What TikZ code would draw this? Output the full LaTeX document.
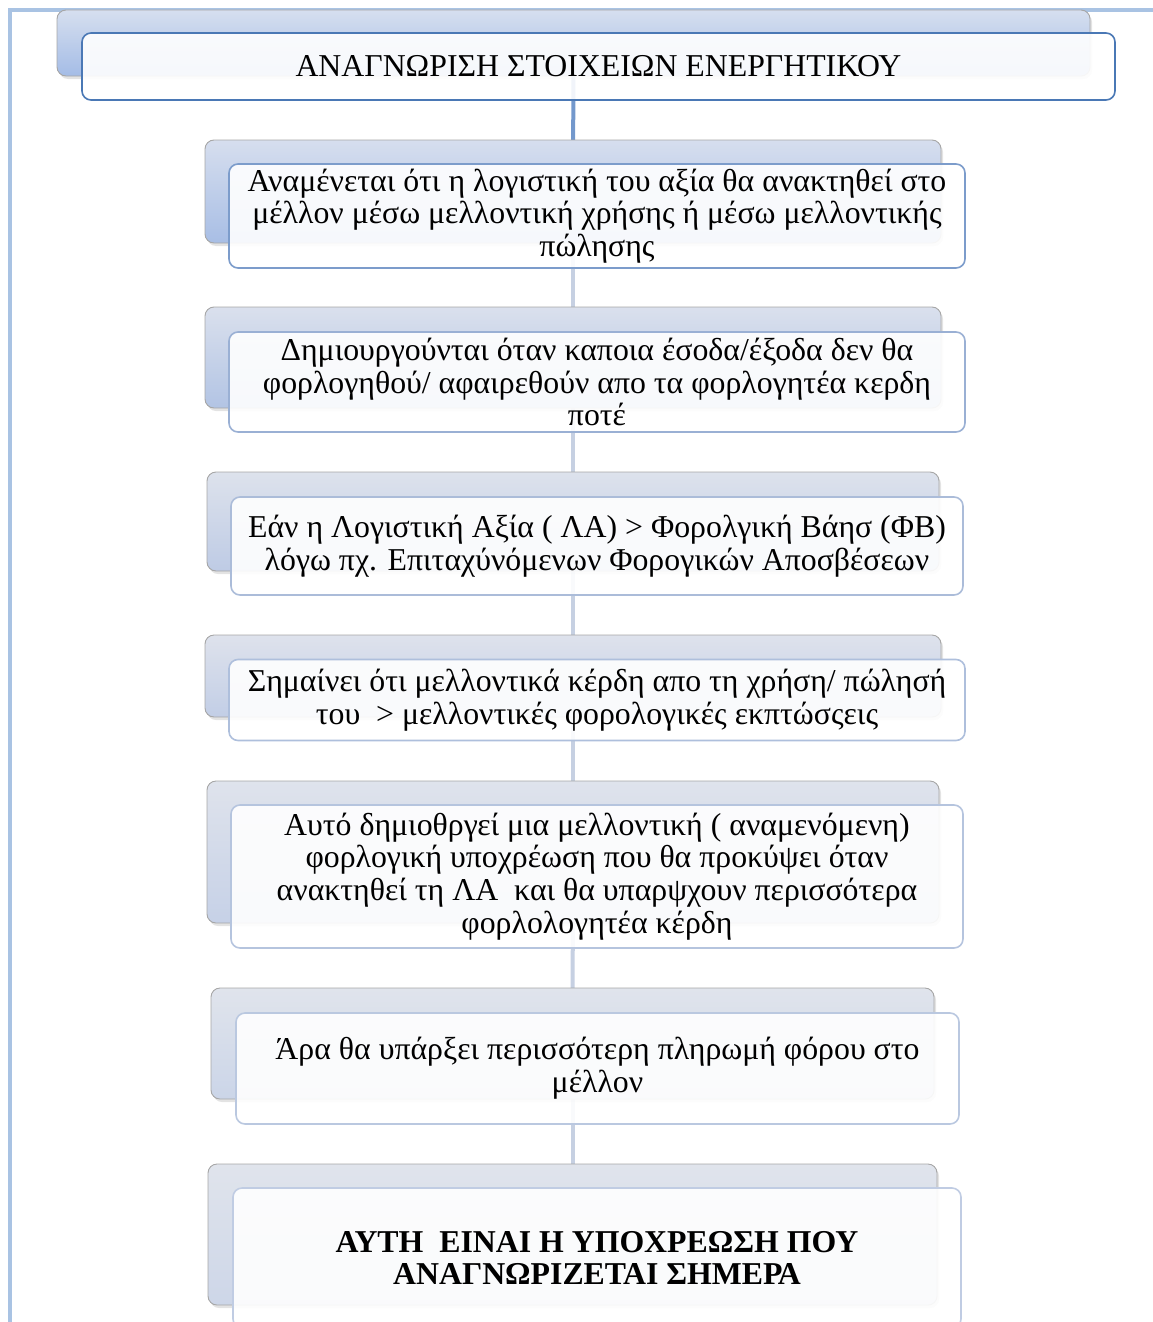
\documentclass[tikz,border=0pt]{standalone}
\usepackage{fontspec}
\setmainfont{Liberation Serif}
\usetikzlibrary{shadows}
\pgfdeclarelayer{background}
\pgfsetlayers{background,main}

\definecolor{framecol}{HTML}{A9C3E3}
\definecolor{spinetop}{HTML}{7398CC}
\definecolor{spine}{HTML}{C6D0E2}

\tikzset{
  back/.style={draw=black!35, line width=0.9pt, rounded corners=9pt, inner sep=0pt,
    drop shadow={opacity=0.22, shadow xshift=2pt, shadow yshift=-3pt}},
  front/.style={line width=1.6pt, rounded corners=9pt, fill=white, fill opacity=0.9,
    text opacity=1, inner sep=0pt, align=center,
    font=\fontsize{31.8}{32.8}\selectfont},
  link/.style={line width=4pt, draw=spine},
}

\begin{document}
\begin{tikzpicture}[x=1pt, y=-1pt]
\useasboundingbox (0,0) rectangle (1153,1322);

% outer frame (left and top edges)
\draw[framecol, line width=4pt] (9.5,1330) -- (9.5,10.5) -- (1160,10.5);

% back plates, top colour fading towards grey down the column
\node[back, top color={rgb,255:red,214;green,223;blue,239}, bottom color={rgb,255:red,164;green,188;blue,230},
  minimum width=1033pt, minimum height=66pt] (p0) at (573.5,43) {};
\node[back, top color={rgb,255:red,214;green,222;blue,238}, bottom color={rgb,255:red,168;green,190;blue,229},
  minimum width=736pt, minimum height=103pt] (p1) at (573,191.5) {};
\node[back, top color={rgb,255:red,218;green,224;blue,237}, bottom color={rgb,255:red,178;green,196;blue,228},
  minimum width=736pt, minimum height=101pt] (p2) at (573,357.5) {};
\node[back, top color={rgb,255:red,221;green,226;blue,236}, bottom color={rgb,255:red,190;green,203;blue,229},
  minimum width=732pt, minimum height=99pt] (p3) at (573,521.5) {};
\node[back, top color={rgb,255:red,222;green,226;blue,236}, bottom color={rgb,255:red,194;green,206;blue,230},
  minimum width=736pt, minimum height=82pt] (p4) at (573,676) {};
\node[back, top color={rgb,255:red,223;green,227;blue,236}, bottom color={rgb,255:red,198;green,209;blue,231},
  minimum width=732pt, minimum height=142pt] (p5) at (573,852) {};
\node[back, top color={rgb,255:red,224;green,228;blue,236}, bottom color={rgb,255:red,203;green,213;blue,232},
  minimum width=723pt, minimum height=111pt] (p6) at (572.5,1043.5) {};
\node[back, top color={rgb,255:red,224;green,228;blue,236}, bottom color={rgb,255:red,205;green,214;blue,232},
  minimum width=729pt, minimum height=141pt] (p7) at (572.5,1234.5) {};

% spine joining the plates
\begin{pgfonlayer}{background}
  \draw[link, draw=spinetop] (p0.center) -- (p1.center);
  \draw[link] (p1.center) -- (p2.center);
  \draw[link] (p2.center) -- (p3.center);
  \draw[link] (p3.center) -- (p4.center);
  \draw[link] (p4.center) -- (p5.center);
  \draw[link] (p5.center) -- (p6.center);
  \draw[link] (p6.center) -- (p7.center);
\end{pgfonlayer}

% text cards
\node[front, draw={rgb,255:red,74;green,120;blue,181}, minimum width=1033pt, minimum height=67pt] (c0) at (598.5,66.5)
  {ΑΝΑΓΝΩΡΙΣΗ ΣΤΟΙΧΕΙΩΝ ΕΝΕΡΓΗΤΙΚΟΥ};
\node[front, draw={rgb,255:red,124;green,156;blue,203}, minimum width=736pt, minimum height=104pt] (c1) at (597,216)
  {Αναμένεται ότι η λογιστική του αξία θα ανακτηθεί στο\\
   μέλλον μέσω μελλοντική χρήσης ή μέσω μελλοντικής\\
   πώλησης};
\node[front, draw={rgb,255:red,154;green,176;blue,212}, minimum width=736pt, minimum height=100pt] (c2) at (597,382)
  {Δημιουργούνται όταν καποια έσοδα/έξοδα δεν θα\\
   φορλογηθού/ αφαιρεθούν απο τα φορλογητέα κερδη\\
   ποτέ};
\node[front, draw={rgb,255:red,171;green,188;blue,217}, minimum width=732pt, minimum height=98pt] (c3) at (597,546)
  {Εάν η Λογιστική Αξία ( ΛΑ) > Φορολγική Βάησ (ΦΒ)\\
   λόγω πχ. Επιταχύνόμενων Φορογικών Αποσβέσεων};
\node[front, draw={rgb,255:red,174;green,191;blue,220}, minimum width=736pt, minimum height=81pt] (c4) at (597,700)
  {Σημαίνει ότι μελλοντικά κέρδη απο τη χρήση/ πώλησή\\
   του\ \ > μελλοντικές φορολογικές εκπτώσςεις};
\node[front, draw={rgb,255:red,181;green,196;blue,222}, minimum width=732pt, minimum height=143pt] (c5) at (597,876.5)
  {Αυτό δημιοθργεί μια μελλοντική ( αναμενόμενη)\\
   φορλογική υποχρέωση που θα προκύψει όταν\\
   ανακτηθεί τη ΛΑ\ \ και θα υπαρψχουν περισσότερα\\
   φορλολογητέα κέρδη};
\node[front, draw={rgb,255:red,186;green,200;blue,224}, minimum width=723pt, minimum height=111pt] (c6) at (597.5,1068.5)
  {Άρα θα υπάρξει περισσότερη πληρωμή φόρου στο\\
   μέλλον};
\node[front, draw={rgb,255:red,192;green,204;blue,227}, minimum width=728pt, minimum height=140pt,
  font=\fontsize{31.8}{32.8}\selectfont\bfseries] (c7) at (597,1258)
  {ΑΥΤΗ\ \ ΕΙΝΑΙ Η ΥΠΟΧΡΕΩΣΗ ΠΟΥ\\
   ΑΝΑΓΝΩΡΙΖΕΤΑΙ ΣΗΜΕΡΑ};
\end{tikzpicture}
\end{document}
